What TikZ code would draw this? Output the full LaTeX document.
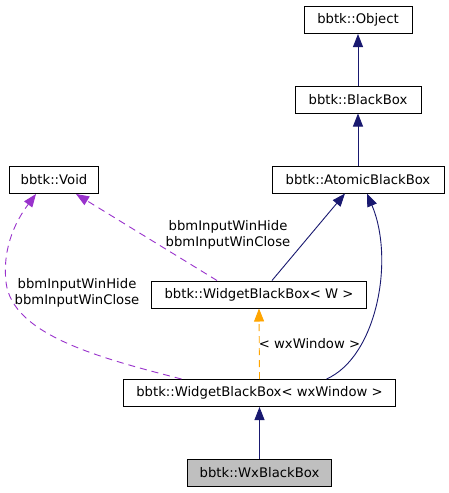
\documentclass[tikz,border=0pt]{standalone}
\usepackage{fontspec}
\setmainfont{DejaVu Sans}
\usetikzlibrary{arrows.meta}
\definecolor{navyc}{RGB}{25,25,112}
\definecolor{purpc}{RGB}{153,50,204}
\definecolor{orangc}{RGB}{255,165,0}
\definecolor{grayc}{RGB}{191,191,191}
\begin{document}
\begin{tikzpicture}[x=1pt,y=-1pt,
  cls/.style={draw=black,line width=1pt,fill=white,minimum height=27pt,inner sep=0pt,
    font=\fontsize{13.2}{16}\selectfont},
  lbl/.style={align=center,font=\fontsize{13.2}{16.5}\selectfont,inner sep=0pt},
  tip/.style={-{Triangle[length=13pt,width=10pt]}},
  inh/.style={tip,draw=navyc,line width=0.9pt},
  usedby/.style={tip,draw=purpc,line width=0.9pt,dash pattern=on 7pt off 5pt},
  tmpl/.style={tip,draw=orangc,line width=0.9pt,dash pattern=on 7pt off 5pt}]
\useasboundingbox[fill=white] (0,0) rectangle (449,493);
\node[cls,minimum width=108pt] (obj) at (358,20) {bbtk::Object};
\node[cls,minimum width=126pt] (bb) at (358,99.5) {bbtk::BlackBox};
\node[cls,minimum width=172pt] (ab) at (358,179.5) {bbtk::AtomicBlackBox};
\node[cls,minimum width=89pt] (void) at (54,180) {bbtk::Void};
\node[cls,minimum width=215pt] (ww) at (259,294.5) {bbtk::WidgetBlackBox< W >};
\node[cls,minimum width=272pt] (wx) at (259.5,393) {bbtk::WidgetBlackBox< wxWindow >};
\node[cls,minimum width=144pt,fill=grayc] (wxbb) at (259.5,473) {bbtk::WxBlackBox};
% edges
\draw[inh] (bb.north) -- (obj.south);
\draw[inh] (ab.north) -- (bb.south);
\draw[inh] ([xshift=13pt]ww.north) -- ([xshift=-13pt]ab.south);
\draw[inh] ([xshift=67pt]wx.north) .. controls ++(50,-22) and (395,260) .. ([xshift=9pt]ab.south);
\draw[usedby] ([xshift=-42pt]ww.north) -- ([xshift=22pt]void.south);
\draw[usedby] ([xshift=-78pt]wx.north) .. controls (100,358) and (12,335) .. (6,282)
  .. controls (2,245) and (18,218) .. ([xshift=-18pt]void.south);
\draw[tmpl] (wx.north) -- (ww.south);
\draw[inh] (wxbb.north) -- (wx.south);
% labels
\node[lbl] (l1) at (228,235) {bbmInputWinHide\\bbmInputWinClose};
\node[lbl] (l2) at (77,293) {bbmInputWinHide\\bbmInputWinClose};
\node[lbl] (l3) at (309.5,344) {< wxWindow >};
\end{tikzpicture}
\end{document}
